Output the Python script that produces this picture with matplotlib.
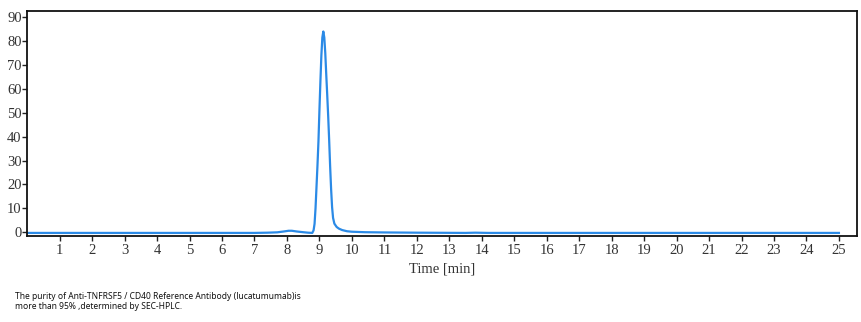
import matplotlib
matplotlib.use("Agg")
import matplotlib.pyplot as plt

# retention time [min] and detector signal
time_min = [
    0.0, 3.0, 6.0, 7.0, 7.4, 7.7, 7.9, 8.05, 8.15, 8.3, 8.5, 8.65, 8.78,
    8.82, 8.85, 8.88, 8.91, 8.94, 8.97, 9.00, 9.03, 9.06, 9.09, 9.12,
    9.15, 9.18, 9.21, 9.24, 9.27, 9.30, 9.33, 9.36, 9.39, 9.42, 9.46,
    9.53, 9.60, 9.70, 9.85, 10.0, 10.4, 11.0, 12.0, 13.5, 13.8, 14.2,
    16.0, 20.0, 25.0,
]
signal = [
    -0.3, -0.3, -0.3, -0.3, -0.2, -0.05, 0.3, 0.6, 0.6, 0.3, 0.0, -0.2, -0.3,
    0.8, 3.5, 10.0, 19.0, 28.0, 38.0, 51.0, 63.0, 74.0, 81.5, 84.0,
    81.5, 75.0, 66.0, 57.5, 48.5, 38.5, 27.5, 18.0, 10.5, 6.0, 3.6,
    2.2, 1.5, 0.9, 0.4, 0.2, 0.0, -0.1, -0.2, -0.3, -0.2, -0.3,
    -0.3, -0.3, -0.3,
]
x_ticks = list(range(1, 26))
y_ticks = list(range(0, 91, 10))

caption = ("The purity of Anti-TNFRSF5 / CD40 Reference Antibody (lucatumumab)is\n"
           "more than 95% ,determined by SEC-HPLC.")

fig = plt.figure(figsize=(8.61, 3.22), dpi=100)
ax = fig.add_axes([0.0316, 0.267, 0.9635, 0.699])

ax.plot(time_min, signal, color="#2b8ae6", linewidth=1.6)

ax.set_xlim(0, 25.55)
ax.set_ylim(-1.6, 92.6)
ax.set_xticks(x_ticks)
ax.set_yticks(y_ticks)

serif = "Liberation Serif"
ax.tick_params(axis="both", direction="out", length=3.5, width=1.0,
               color="#222222", labelcolor="#333333", labelsize=10.5)
ax.tick_params(axis="y", pad=0.5)
ax.tick_params(axis="x", pad=2)
for lbl in ax.get_xticklabels() + ax.get_yticklabels():
    lbl.set_fontfamily(serif)

for spine in ax.spines.values():
    spine.set_linewidth(1.3)
    spine.set_color("#111111")

ax.set_xlabel("Time [min]", fontfamily=serif, fontsize=10.5,
              color="#333333", labelpad=4)

fig.text(0.0174, 0.092, caption, fontfamily="Noto Sans", fontsize=6.1,
         color="#111111", linespacing=1.15, va="top", ha="left")

fig.savefig("out.png", dpi=100)
